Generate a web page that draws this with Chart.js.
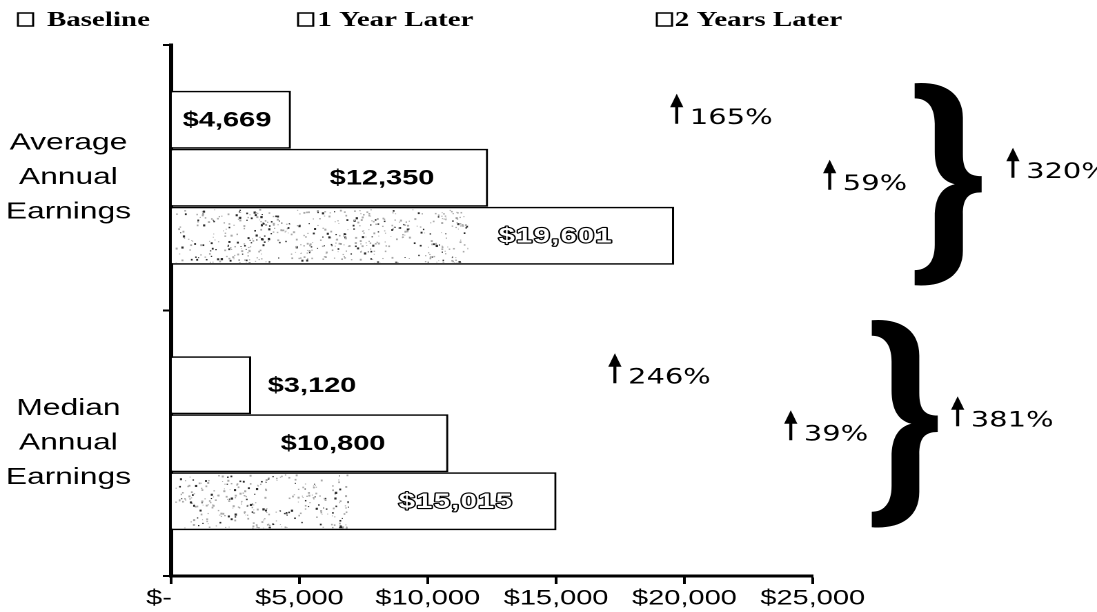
<!DOCTYPE html>
<html><head><meta charset="utf-8">
<script src="https://cdn.jsdelivr.net/npm/chart.js@4.4.1/dist/chart.umd.min.js"></script>
<style>
html,body{margin:0;padding:0;background:#fff;overflow:hidden;}
#wrap{position:absolute;left:0;top:0;width:795px;height:612px;transform-origin:0 0;transform:scaleX(1.379874);}
</style></head><body>
<div id="wrap"><canvas id="c"></canvas></div>
<script>
// ---- data ----
const categories = [['Average','Annual','Earnings'],['Median','Annual','Earnings']];
const seriesNames = ['Baseline','1 Year Later','2 Years Later'];
const baseline = [4669, 3120];
const oneYearLater = [12350, 10800];
const twoYearsLater = [19601, 15015];
const valueLabels = [['$4,669','$3,120'],['$12,350','$10,800'],['$19,601','$15,015']];
const xTickValues = [0,5000,10000,15000,20000,25000];
const xTickLabels = ['$-','$5,000','$10,000','$15,000','$20,000','$25,000'];
const changeBaseTo1 = ['165%','246%'];
const change1To2 = ['59%','39%'];
const changeBaseTo2 = ['320%','381%'];

// ---- layout / style (not data) ----
const labelCentreAt = [[2180,5490],[8220,6310],[14990,11100]];   // $ position of label centres
const stippleFrac = [0.59,0.46];
const arrowsLayout = [
  {texts: changeBaseTo1, x:[19700,17290], dy:[-54,-60]},
  {texts: change1To2,    x:[25660,24143], dy:[12,-3]},
  {texts: changeBaseTo2, x:[32800,30646], dy:[0,-17]}
];
const braceLayout = {x0:[28970,27300], x1:[31580,29870], top:[-94.5,-123], bot:[107.5,84]};
const legendLayout = [{box:13,text:34},{box:216,text:230},{box:476,text:489}];
const sansFamily = '"Liberation Sans", Arial, sans-serif';

function drawArrow(ctx, x, yb){
  ctx.save();
  ctx.fillStyle='#000'; ctx.strokeStyle='#000';
  ctx.lineWidth=2.2;
  ctx.beginPath(); ctx.moveTo(x, yb); ctx.lineTo(x, yb-18); ctx.stroke();
  ctx.beginPath(); ctx.moveTo(x-4.8, yb-16.5); ctx.lineTo(x+4.8, yb-16.5); ctx.lineTo(x, yb-30); ctx.closePath(); ctx.fill();
  ctx.restore();
}
function drawBrace(ctx, x0, x1, y0, y1){
  const W=x1-x0, H=y1-y0;
  const P=(u,v)=>[x0+u*W, y0+v*H];
  ctx.save(); ctx.fillStyle='#000'; ctx.beginPath();
  let p=P(0.0,0.0); ctx.moveTo(p[0],p[1]);
  const bz=(a,b,c)=>{const A=P(...a),B=P(...b),C=P(...c);ctx.bezierCurveTo(A[0],A[1],B[0],B[1],C[0],C[1]);};
  const ln=(a)=>{const A=P(...a);ctx.lineTo(A[0],A[1]);};
  bz([0.40,-0.01],[0.72,0.04],[0.72,0.17]);
  ln([0.72,0.35]);
  bz([0.72,0.43],[0.80,0.46],[1.0,0.46]);
  ln([1.0,0.54]);
  bz([0.80,0.54],[0.72,0.57],[0.72,0.65]);
  ln([0.72,0.83]);
  bz([0.72,0.96],[0.40,1.01],[0.0,1.0]);
  ln([0.0,0.925]);
  bz([0.17,0.925],[0.30,0.89],[0.30,0.80]);
  ln([0.30,0.66]);
  bz([0.30,0.57],[0.40,0.515],[0.60,0.50]);
  bz([0.40,0.485],[0.30,0.43],[0.30,0.34]);
  ln([0.30,0.20]);
  bz([0.30,0.11],[0.17,0.075],[0.0,0.075]);
  ctx.closePath(); ctx.fill(); ctx.restore();
}

const decor = {
  id:'decor',
  afterDatasetsDraw(chart){
    const ctx=chart.ctx, xs=chart.scales.x, ys=chart.scales.y;
    // stipple texture on 2-years bars
    let seed=20240611;
    const rnd=()=>{seed=(Math.imul(seed,1664525)+1013904223)>>>0;return seed/4294967296;};
    const meta2=chart.getDatasetMeta(2);
    meta2.data.forEach((bar,i)=>{
      const {x,y,base,height}=bar.getProps(['x','y','base','height'],true);
      const l=base+2.5, r=base+stippleFrac[i]*(x-base), t=y-height/2+2, b=y+height/2-2;
      ctx.save(); ctx.beginPath(); ctx.rect(l,t,r-l,b-t); ctx.clip();
      const n=Math.round((r-l)*(b-t)*0.10);
      for(let k=0;k<n;k++){
        const px=l+rnd()*(r-l), py=t+rnd()*(b-t);
        const w=0.5+0.5*Math.sin(px*0.11+Math.sin(py*0.13)*2)*Math.cos(px*0.031);
        if(rnd()>w*0.85+0.05) continue;
        const dark=rnd()<0.3;
        ctx.fillStyle=dark?'#2a2a2a':'#a8a8a8';
        const s=dark?(0.7+rnd()*1.0):(0.6+rnd()*0.9);
        ctx.fillRect(px,py,s,s*1.3);
      }
      ctx.restore();
    });
    // value labels
    ctx.save();
    ctx.textAlign='center'; ctx.textBaseline='middle';
    for(let d=0; d<3; d++){
      const meta=chart.getDatasetMeta(d);
      meta.data.forEach((bar,i)=>{
        const yy=bar.getProps(['y'],true).y+1;
        const xx=xs.getPixelForValue(labelCentreAt[d][i]);
        const txt=valueLabels[d][i];
        if(d===2){
          ctx.font='bold 21px '+sansFamily;
          ctx.letterSpacing='1px';
          ctx.lineJoin='round'; ctx.lineWidth=2.2; ctx.strokeStyle='#000'; ctx.strokeText(txt,xx,yy);
          ctx.fillStyle='#fff'; ctx.fillText(txt,xx,yy);
          ctx.letterSpacing='0px';
        } else { ctx.font='bold 21px '+sansFamily; ctx.fillStyle='#000'; ctx.fillText(txt,xx,yy); }
      });
    }
    ctx.restore();
  },
  afterDraw(chart){
    const ctx=chart.ctx, xs=chart.scales.x, ys=chart.scales.y;
    // change annotations
    ctx.save();
    ctx.font='21px "DejaVu Sans", sans-serif'; ctx.fillStyle='#000'; ctx.textAlign='left'; ctx.textBaseline='alphabetic';
    arrowsLayout.forEach(a=>{
      a.texts.forEach((t,i)=>{
        const x=xs.getPixelForValue(a.x[i]);
        const yb=ys.getPixelForValue(i)+a.dy[i];
        drawArrow(ctx,x,yb);
        ctx.fillText(t,x+9.5,yb);
      });
    });
    for(let i=0;i<2;i++){
      const c=ys.getPixelForValue(i);
      drawBrace(ctx, xs.getPixelForValue(braceLayout.x0[i]), xs.getPixelForValue(braceLayout.x1[i]), c+braceLayout.top[i], c+braceLayout.bot[i]);
    }
    // legend
    ctx.font='bold 21px "Liberation Serif", "Times New Roman", serif';
    ctx.textBaseline='alphabetic';
    chart.data.datasets.forEach((ds,i)=>{
      const L=legendLayout[i];
      ctx.fillStyle='#fff'; ctx.fillRect(L.box,13,11,13);
      ctx.strokeStyle='#000'; ctx.lineWidth=1.5; ctx.strokeRect(L.box,13,11,13);
      ctx.fillStyle='#000'; ctx.fillText(ds.label,L.text,26);
    });
    ctx.restore();
  }
};

const seriesData=[baseline,oneYearLater,twoYearsLater];
new Chart(document.getElementById('c'),{
  type:'bar',
  data:{
    labels:categories,
    datasets:seriesNames.map((n,i)=>({
      label:n, data:seriesData[i],
      backgroundColor:'#fff', borderColor:'#000', borderWidth:1.6, borderSkipped:'start',
      categoryPercentage:0.655, barPercentage:1.0
    }))
  },
  options:{
    indexAxis:'y', responsive:true, maintainAspectRatio:false, animation:false, devicePixelRatio:2,
    layout:{padding:{top:45,right:206,bottom:0,left:0}},
    plugins:{legend:{display:false},tooltip:{enabled:false}},
    scales:{
      x:{type:'linear',min:0,max:25000,
        ticks:{stepSize:5000,autoSkip:false,maxRotation:0,color:'#000',padding:2,
          font:{family:sansFamily,size:21},
          callback:(v)=>{const k=xTickValues.indexOf(v);const s=k<0?'':xTickLabels[k];return v===0?s+'   ':s;}},
        grid:{drawOnChartArea:false,drawTicks:true,tickLength:8,tickWidth:2,tickColor:'#000'},
        border:{display:true,color:'#000',width:3},
        afterFit:(s)=>{s.height=36;s.paddingLeft=0;s.paddingRight=0;}
      },
      y:{
        ticks:{crossAlign:'center',color:'#000',padding:23,font:{family:sansFamily,size:23,lineHeight:1.5}},
        grid:{drawOnChartArea:false,drawTicks:true,tickLength:6,tickWidth:2,tickColor:'#000',offset:true},
        border:{display:true,color:'#000',width:3},
        afterFit:(s)=>{s.width=124;s.paddingTop=0;s.paddingBottom=0;}
      }
    }
  },
  plugins:[decor]
});
</script>
</body></html>
